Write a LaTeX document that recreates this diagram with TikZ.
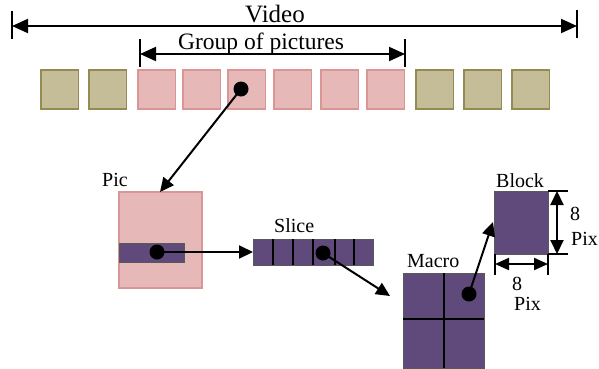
\documentclass[tikz,border=0pt]{standalone}
\usepackage{fontspec}
\setmainfont{Liberation Serif}
\newfontfamily\serfont{Liberation Serif}
\usetikzlibrary{arrows.meta}
\definecolor{olivefill}{HTML}{C4BD97}
\definecolor{olivedraw}{HTML}{948A54}
\definecolor{pinkfill}{HTML}{E6B9B8}
\definecolor{pinkdraw}{HTML}{D99694}
\definecolor{purp}{HTML}{604A7B}
\definecolor{purpdraw}{HTML}{595959}
\tikzset{
  sq/.style={rectangle, inner sep=0pt, outer sep=0pt, line width=1.5pt, minimum width=37.5pt, minimum height=39pt, anchor=north west},
  olivesq/.style={sq, fill=olivefill, draw=olivedraw},
  pinksq/.style={sq, fill=pinkfill, draw=pinkdraw},
  purpbox/.style={rectangle, inner sep=0pt, outer sep=0pt, line width=1pt, fill=purp, draw=purpdraw, anchor=north west},
  lbl/.style={font=\serfont\fontsize{20}{23}\selectfont, inner sep=0pt, anchor=base west},
  biglbl/.style={font=\serfont\fontsize{23.5}{26}\selectfont, inner sep=0pt, anchor=base west},
  arr/.style={line width=2pt, -{Triangle[length=14pt,width=13pt]}},
  dimarr/.style={line width=2pt, {Triangle[length=16pt,width=14pt]}-{Triangle[length=16pt,width=14pt]}},
  tick/.style={line width=1.6pt},
  dot/.style={fill=black},
}
\begin{document}
\begin{tikzpicture}[x=1pt,y=-1pt]
\useasboundingbox (0,0) rectangle (599,368);
% Video dimension
\coordinate (v1) at (12,26);
\coordinate (v2) at (577,26);
\draw[tick] (12,11) -- (12,39);
\draw[tick] (577,10) -- (577,38);
\draw[dimarr] (v1) -- (v2);
\node[biglbl, font=\serfont\fontsize{25}{28}\selectfont] (videolbl) at (245,22) {Video};
% Group of pictures
\coordinate (g1) at (140,54);
\coordinate (g2) at (405,54);
\draw[tick] (140,39) -- (140,67);
\draw[tick] (405,39) -- (405,67);
\draw[dimarr] (g1) -- (g2);
\node[biglbl] (goplbl) at (178,49) {Group of pictures};
% frames
\node[olivesq] (f1) at (41,70) {};
\node[olivesq] (f2) at (89,70) {};
\node[pinksq] (f3) at (138,70) {};
\node[pinksq] (f4) at (183,70) {};
\node[pinksq] (f5) at (228,70) {};
\node[pinksq] (f6) at (274,70) {};
\node[pinksq] (f7) at (321,70) {};
\node[pinksq] (f8) at (367,70) {};
\node[olivesq] (f9) at (416,70) {};
\node[olivesq] (f10) at (464,70) {};
\node[olivesq] (f11) at (512,70) {};
% Pic
\node[rectangle, inner sep=0pt, outer sep=0pt, line width=1.5pt, fill=pinkfill, draw=pinkdraw, anchor=north west, minimum width=83pt, minimum height=96pt] (pic) at (119,192) {};
\node[lbl] (piclbl) at (102,186) {Pic};
\node[purpbox, minimum width=65pt, minimum height=19pt] (picslice) at (119,243) {};
% arrow frame -> pic
\coordinate (d1) at (241,89);
\coordinate (picin) at (160,192);
\draw[arr] (d1) -- (picin);
\fill[dot] (d1) circle (7.5pt);
% Slice
\node[purpbox, minimum width=120pt, minimum height=26pt] (slice) at (253,239) {};
\foreach \x in {273,293,313,335,354} \draw[line width=1.5pt] (\x,239) -- (\x,265);
\node[lbl] (slicelbl) at (274,232) {Slice};
\coordinate (d2) at (157,252);
\draw[arr] (d2) -- (slice.west);
\fill[dot] (d2) circle (7.5pt);
% Macro
\node[purpbox, minimum width=81pt, minimum height=95pt] (macro) at (403,273) {};
\draw[line width=1.5pt] (444,273) -- (444,368);
\draw[line width=1.5pt] (403,319) -- (484,319);
\node[lbl] (macrolbl) at (407,267) {Macro};
\coordinate (d3) at (323,253);
\coordinate (macroin) at (390,296);
\draw[arr] (d3) -- (macroin);
\fill[dot] (d3) circle (7.5pt);
% Block
\node[purpbox, minimum width=54pt, minimum height=63pt] (block) at (494,191) {};
\node[lbl] (blocklbl) at (496,187) {Block};
\coordinate (d4) at (469,294);
\coordinate (blockin) at (493,222);
\draw[arr] (d4) -- (blockin);
\fill[dot] (d4) circle (7.5pt);
% vertical dimension
\draw[tick] (548,191) -- (568,191);
\draw[tick] (548,254) -- (568,254);
\coordinate (bv1) at (557,191);
\coordinate (bv2) at (557,254);
\draw[line width=2pt, {Triangle[length=14pt,width=13pt]}-{Triangle[length=14pt,width=13pt]}] (bv1) -- (bv2);
\node[lbl] (v8) at (570,220) {8};
\node[lbl] (vpix) at (571,245) {Pix};
% horizontal dimension
\draw[tick] (495,254) -- (495,275);
\draw[tick] (548,254) -- (548,275);
\coordinate (bh1) at (495,264);
\coordinate (bh2) at (548,264);
\draw[line width=2pt, {Triangle[length=14pt,width=12pt]}-{Triangle[length=14pt,width=12pt]}] (bh1) -- (bh2);
\node[lbl] (h8) at (512,290) {8};
\node[lbl] (hpix) at (514,310) {Pix};
\end{tikzpicture}
\end{document}
